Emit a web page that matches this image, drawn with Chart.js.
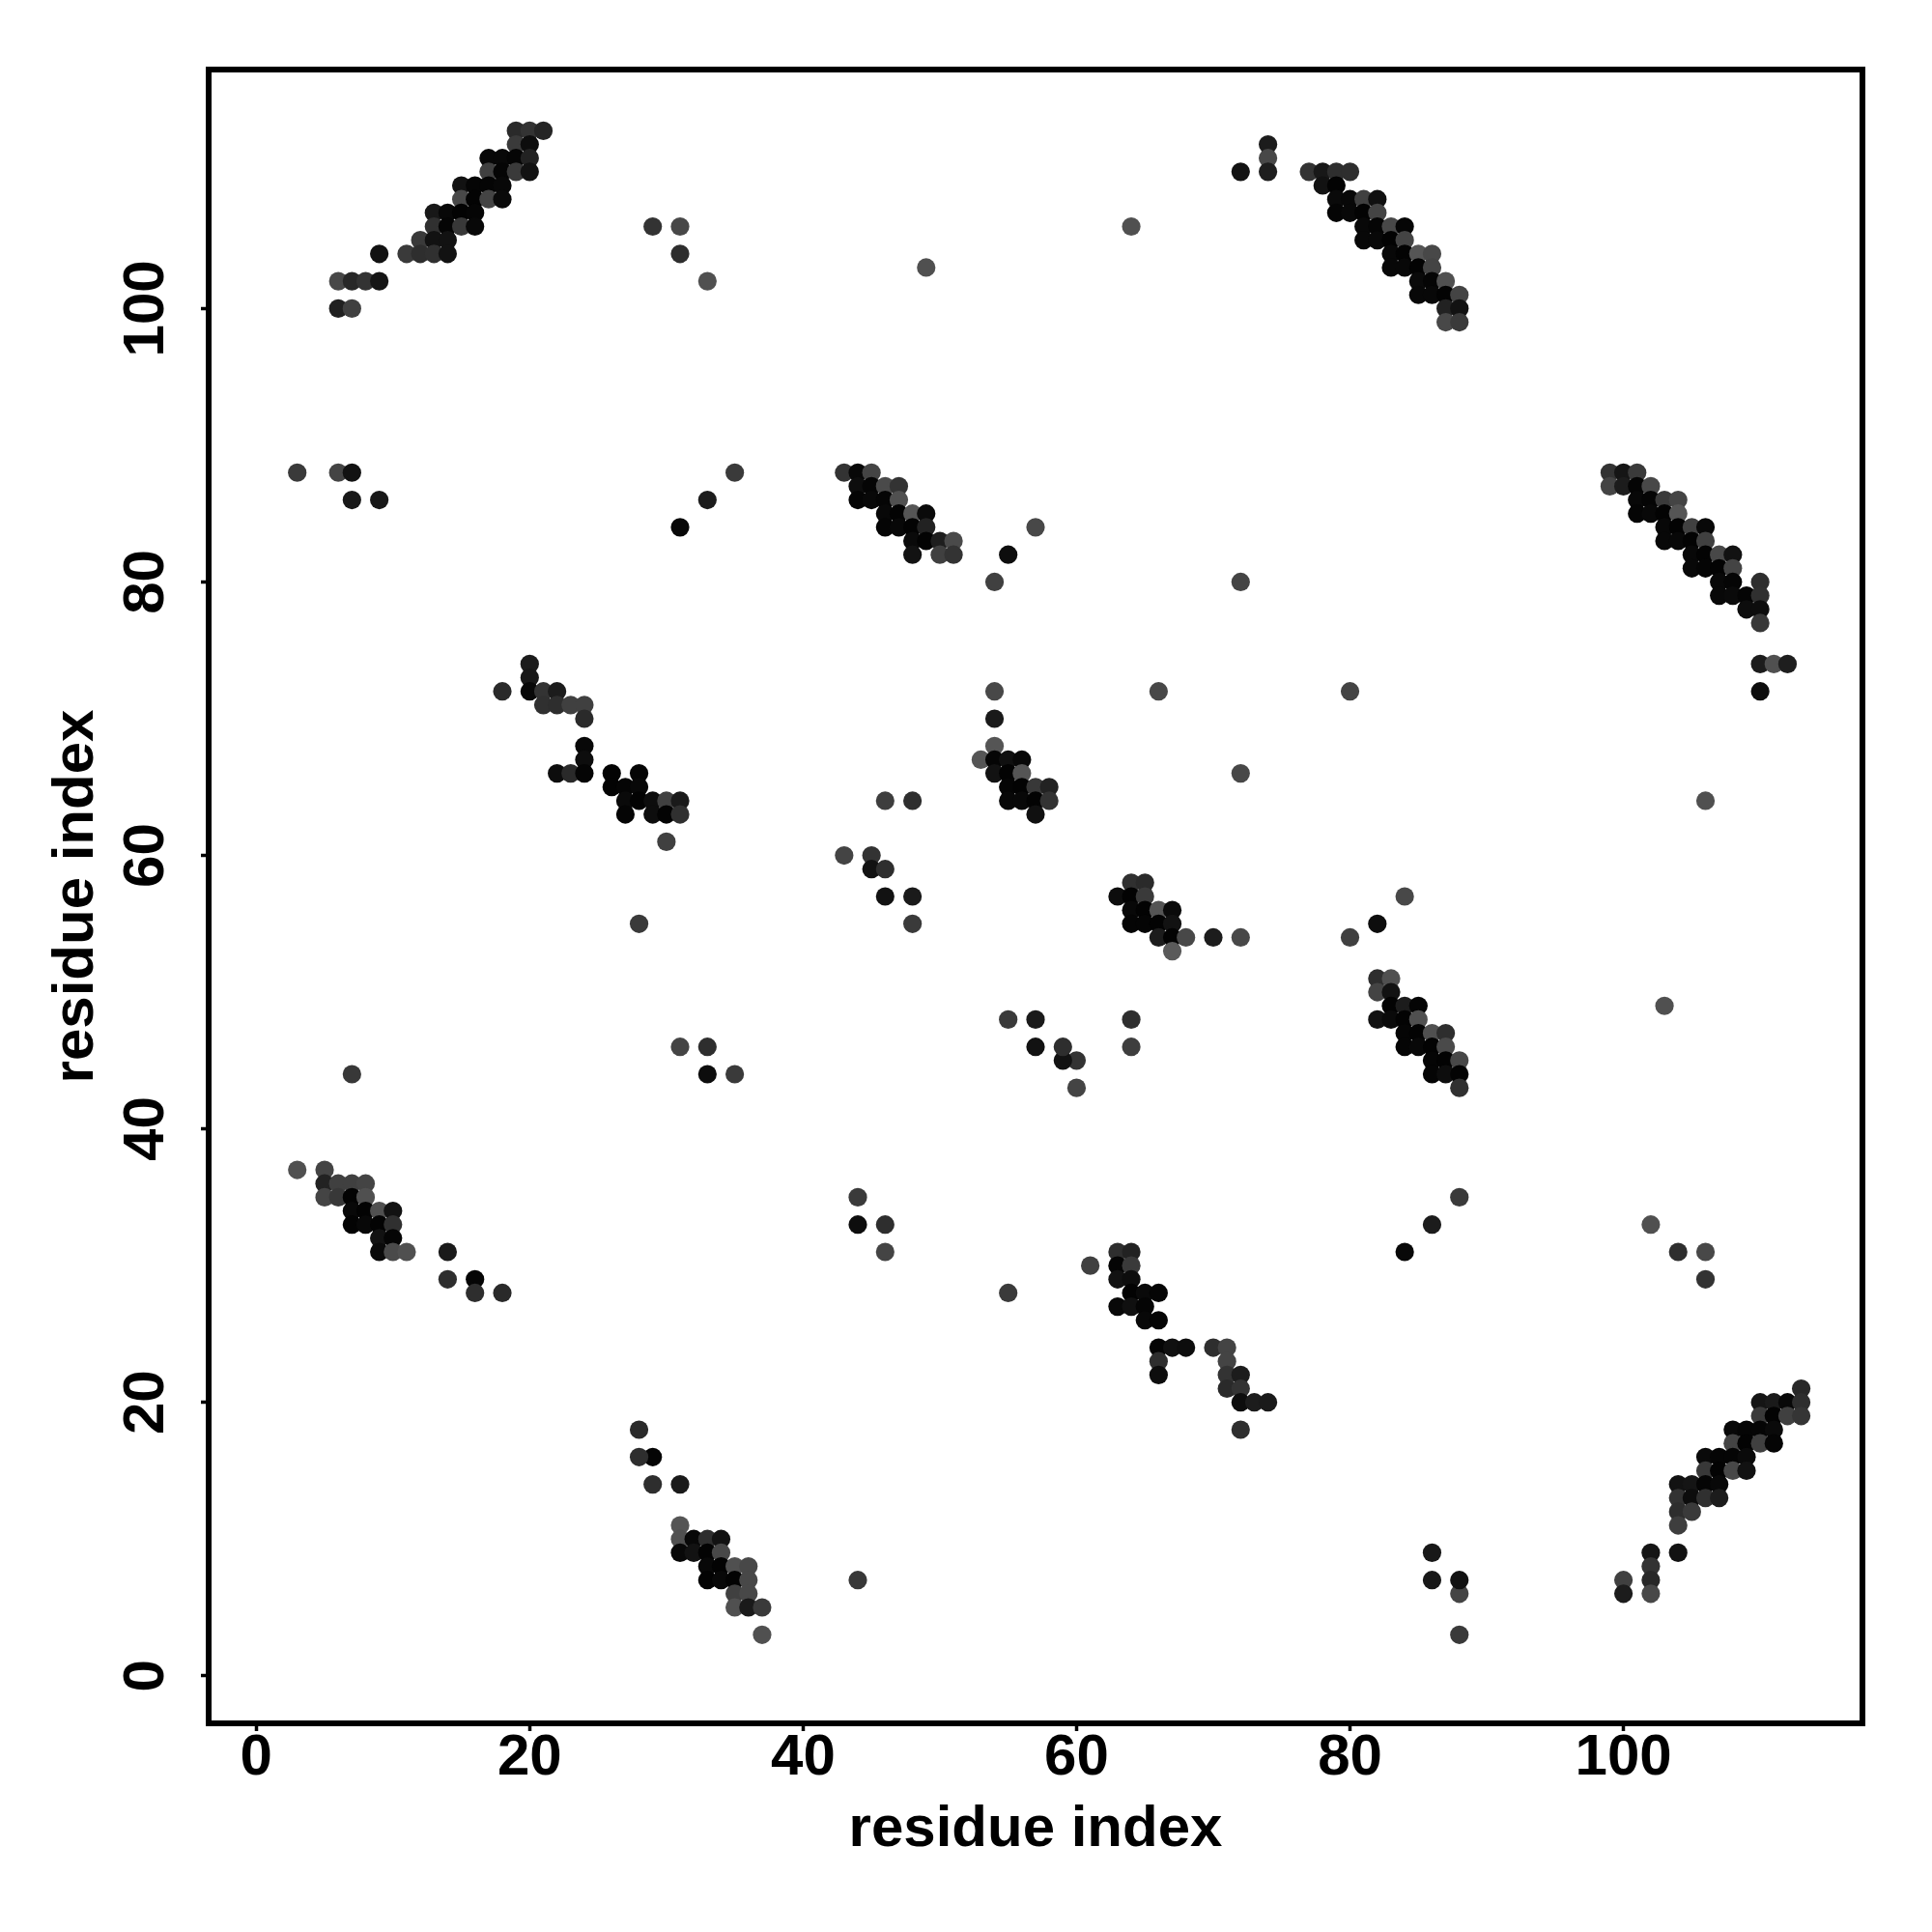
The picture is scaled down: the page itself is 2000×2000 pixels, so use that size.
<!DOCTYPE html>
<html><head><meta charset="utf-8">
<style>html,body{margin:0;padding:0;background:#fff}canvas{display:block}</style>
<script src="https://cdn.jsdelivr.net/npm/chart.js@4"></script>
</head><body><canvas id="c" width="2000" height="2000"></canvas>
<script>
const tickValues = [0, 20, 40, 60, 80, 100];
const axisTitle = "residue index";

const contactX = [
19,20,21, 19,20, 17,18,19,20, 17,18,19,20, 15,16,17,18, 15,16,17,18, 13,14,15,16, 13,14,15,16, 12,13,14, 9,11,12,13,14, 6,7,8,9, 6,7,
113, 110,111,112,113, 110,111,112,113, 108,109,110,111, 108,109,110,111, 106,107,108,109, 106,107,108,109, 104,105,106,107, 104,105,106,107, 104,105, 104, 102,104, 102, 100,102, 100,102,
77,78,79,80, 78,79, 79,80,81,82, 79,80,81,82, 81,82,83,84, 81,82,83,84, 83,84,85,86, 83,84,85,86, 85,86,87, 85,86,87,88, 87,88, 87,88,
99,100,101, 99,100,101,102, 101,102,103,104, 101,102,103,104, 103,104,105,106, 103,104,105,106, 105,106,107,108, 105,106,107,108, 107,108,110, 107,108,109,110, 109,110, 110, 110,111,112, 110,
43,44,45, 44,45,46,47, 44,45,46,47, 46,47,48,49, 46,47,48,49, 48,49,50,51, 48,50,51,
82,83, 82,83, 83,84,85, 82,83,84,85, 84,85,86,87, 84,85,86,87, 86,87,88, 86,87,88, 88,
3,5, 5,6,7,8, 5,6,7,8, 7,8,9,10, 7,8,9,10, 9,10, 9,10,11,
31, 31,32,33,34, 31,32,33,34, 33,34,35,36, 33,34,35,36, 35,36, 35,36,37, 37,
20,20, 18,20,21,22, 21,22,23,24, 24, 24, 24, 22,23,24,26,28, 26,27,28, 27,28,29,30,31, 27,29,30,31, 30,
63,64, 61,63,64, 63,64, 64,65,66, 63,64,65, 65,66, 66,67,68,70,71, 66,71, 66,71,72, 71,72, 72,73,74, 72,
54,66, 54, 54, 53,54,55,56, 54,55,56,72, 55,56,57,58, 55,56,57,58, 57,
64,65, 63,64,65, 64,65,66,67, 64,65,66,67, 66,67,68,70,72, 67,
29,31,31,33,49,64,72,74,74,74, 106,106,104,102,103,106,
3,6,7,7,9,31,33,35, 88,88,88,86,86,84,86,88,
7,44, 28,55,
31,33,33,35, 46,46,44,44,
43,45,45,46,46,48,48, 60,60,59,59,57,57,55,
46,48,64,64, 72,80, 55,57,54, 82,84,80,
14,14,16,16,18, 31,29,29,28,28
];

const contactY = [
113,113,113, 112,112, 111,111,111,111, 110,110,110,110, 109,109,109,109, 108,108,108,108, 107,107,107,107, 106,106,106,106, 105,105,105, 104,104,104,104,104, 102,102,102,102, 100,100,
21, 20,20,20,20, 19,19,19,19, 18,18,18,18, 17,17,17,17, 16,16,16,16, 15,15,15,15, 14,14,14,14, 13,13,13,13, 12,12, 11, 9,9, 8, 7,7, 6,6,
110,110,110,110, 109,109, 108,108,108,108, 107,107,107,107, 106,106,106,106, 105,105,105,105, 104,104,104,104, 103,103,103,103, 102,102,102, 101,101,101,101, 100,100, 99,99,
88,88,88, 87,87,87,87, 86,86,86,86, 85,85,85,85, 84,84,84,84, 83,83,83,83, 82,82,82,82, 81,81,81,81, 80,80,80, 79,79,79,79, 78,78, 77, 74,74,74, 72,
88,88,88, 87,87,87,87, 86,86,86,86, 85,85,85,85, 84,84,84,84, 83,83,83,83, 82,82,82,
51,51, 50,50, 49,49,49, 48,48,48,48, 47,47,47,47, 46,46,46,46, 45,45,45, 44,44,44, 43,
37,37, 36,36,36,36, 35,35,35,35, 34,34,34,34, 33,33,33,33, 32,32, 31,31,31,
11, 10,10,10,10, 9,9,9,9, 8,8,8,8, 7,7,7,7, 6,6, 5,5,5, 3,
74,73, 72,72,72,72, 71,71,71,71, 70, 68, 67, 66,66,66,66,66, 65,65,65, 64,64,64,64,64, 63,63,63,63, 61,
31,31, 30,30,30, 29,29, 28,28,28, 27,27,27, 26,26, 24,24,24,24,24, 23,23, 22,22,22, 21,21, 20,20,20, 18,
72,72, 70, 68, 67,67,67,67, 66,66,66,66, 65,65,65,65, 64,64,64,64, 63,
58,58, 57,57,57, 56,56,56,56, 55,55,55,55, 54,54,54,54,54, 53,
106,106,104,102,103,106,110,112,111,110, 29,31,31,33,49,64,
88,88,88,86,86,84,86,88, 3,6,7,7,9,31,33,35,
44,7, 55,28,
46,46,44,44, 31,33,33,35,
60,60,59,59,57,57,55, 43,45,45,46,46,48,48,
64,64,46,48, 80,72, 82,84,80, 55,57,54,
31,29,29,28,28, 14,14,16,16,18
];

const contactShade = [
42,51,37, 58,13, 8,8,5,34, 64,5,58,18, 18,5,5,8, 72,3,68,10, 24,8,3,5, 48,5,56,8, 58,18,18, 18,58,46,48,18, 72,40,51,21, 32,64,
40, 21,26,8,46, 58,3,64,53, 8,5,5,10, 68,3,64,5, 10,5,5,10, 56,3,72,18, 18,21,5,8, 51,13,48,28, 46,58, 62, 21,18, 51, 64,40, 28,72,
51,24,46,46, 18,3, 10,8,64,16, 5,8,3,68, 8,5,72,5, 8,8,3,68, 8,3,85,72, 8,8,3,68, 10,5,80, 8,8,3,68, 34,18, 72,58,
51,21,58, 68,28,5,72, 8,5,58,68, 5,8,3,85, 8,3,64,8, 8,8,3,64, 8,3,72,18, 8,5,3,68, 8,5,46, 8,10,5,48, 13,13, 56, 28,80,30, 13,
51,8,68, 13,5,74,51, 5,8,5,80, 8,3,85,10, 5,8,3,34, 10,3,30,74, 18,64,51,
46,80, 68,18, 3,28,5, 18,10,3,80, 5,3,80,46, 5,8,3,74, 5,3,72, 5,13,3, 48,
80,68, 34,64,64,68, 68,56,3,80, 8,3,80,18, 3,8,3,48, 18,5, 10,74,80,
85, 80,8,46,18, 8,18,3,72, 8,3,80,72, 3,8,3,72, 64,72, 80,26,58, 80,
28,24, 42,8,51,28, 48,46,64,64, 42, 8, 13, 13,42,5,3,5, 3,5,8, 10,3,13,64,26, 5,13,3,48, 64,
46,34, 64,5,58, 18,13, 3,10,5, 8,16,5, 8,5, 5,16,13,46,68, 46,68, 13,51,28, 42,51, 13,28,26, 46,
72,72, 26, 85, 85,5,16,8, 18,3,85,72, 5,3,56,34, 8,8,3,51, 16,
48,42, 13,3,58, 8,3,85,10, 5,5,3,18, 28,3,72,28,72, 90,
51,72,46,80,80,80,18,28,72,30, 51,72,46,80,80,80,
58,68,18,24,24,8,28,58, 58,68,18,24,24,8,28,58,
56,56, 58,58,
68,46,13,58, 68,46,13,58,
68,51,18,46,18,26,58, 68,51,18,46,18,26,58,
62,46,62,46, 68,68, 13,72,64, 13,72,64,
26,46,5,46,42, 26,46,5,46,42
];

const points = contactX.map((x, i) => ({ x, y: contactY[i] }));
const greys = contactShade.map(v => `rgb(${v},${v},${v})`);

const frame = {
  id: 'frame',
  afterDraw(chart) {
    const a = chart.chartArea, c = chart.ctx;
    c.save();
    c.strokeStyle = '#000';
    c.lineWidth = 6;
    c.lineJoin = 'miter';
    c.strokeRect(a.left, a.top, a.right - a.left, a.bottom - a.top);
    c.restore();
  }
};
const font = { family: '"Liberation Sans", Arial, sans-serif', weight: 'bold', size: 60, lineHeight: 1.2 };
const common = {
  type: 'linear', min: -3.48, max: 117.48,
  border: { display: false },
  grid: { display: true, drawOnChartArea: false, drawTicks: true, tickLength: 8, tickWidth: 3.5, tickColor: '#000' }
};
new Chart(document.getElementById('c'), {
  type: 'scatter',
  data: { datasets: [{
    data: points,
    pointRadius: 9.6, pointHoverRadius: 9.6, pointBorderWidth: 0,
    pointBackgroundColor: greys, showLine: false
  }]},
  plugins: [frame],
  options: {
    responsive: false, animation: false, devicePixelRatio: 1,
    layout: { padding: { left: 0, top: 72, right: 72, bottom: 0 } },
    plugins: { legend: { display: false }, tooltip: { enabled: false } },
    scales: {
      x: { ...common, position: 'bottom',
        ticks: { stepSize: 20, includeBounds: false, autoSkip: false, maxRotation: 0, minRotation: 0, padding: -8, color: '#000', font },
        afterBuildTicks(s) { s.ticks = tickValues.map(value => ({ value })); },
        afterFit(s) { s.height = 216; },
        title: { display: true, text: axisTitle, color: '#000', font, padding: { top: 0, bottom: 70 } }
      },
      y: { ...common, position: 'left',
        ticks: { stepSize: 20, includeBounds: false, autoSkip: false, minRotation: 90, maxRotation: 90, crossAlign: 'center', padding: 5, color: '#000', font },
        afterBuildTicks(s) { s.ticks = tickValues.map(value => ({ value })); },
        afterFit(s) { s.width = 216; },
        title: { display: true, text: axisTitle, color: '#000', font, padding: { top: 43, bottom: 0 } }
      }
    }
  }
});
</script></body></html>
